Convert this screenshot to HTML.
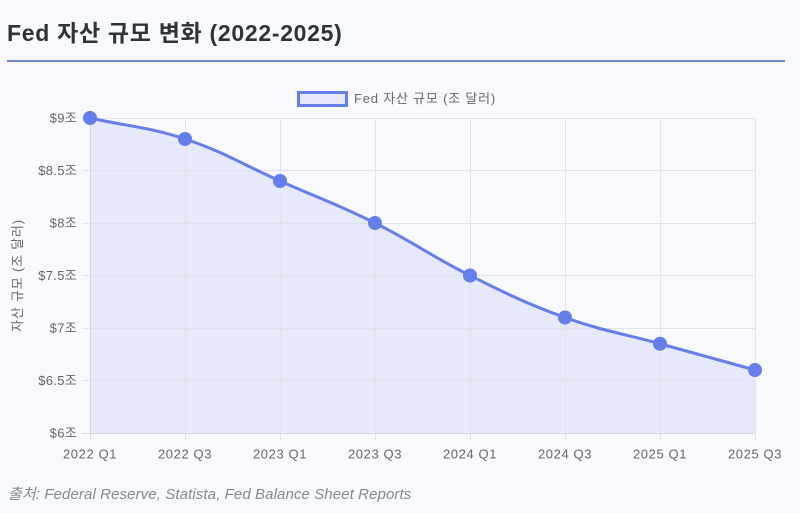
<!DOCTYPE html>
<html>
<head>
<meta charset="utf-8">
<style>
  html,body{margin:0;padding:0;}
  body{width:800px;height:513px;background:#f8f9fc;overflow:hidden;position:relative;
       font-family:"Liberation Sans","Noto Sans CJK KR",sans-serif;}
  .title{position:absolute;left:7px;top:18px;font-size:23px;font-weight:bold;color:#2d3436;white-space:nowrap;line-height:30px;letter-spacing:0.7px;}
  .rule{position:absolute;left:7px;top:60px;width:778px;height:2px;background:#7486cc;}
  .src{position:absolute;left:8px;top:486px;font-size:15px;font-style:italic;color:#7f8c8d;white-space:nowrap;line-height:18px;letter-spacing:0.1px;}
  svg{position:absolute;left:0;top:0;}
</style>
</head>
<body>
<div class="title">Fed 자산 규모 변화 (2022-2025)</div>
<div class="rule"></div>

<svg width="800" height="513" viewBox="0 0 800 513" font-family="'Liberation Sans','Noto Sans CJK KR',sans-serif">
  <!-- legend -->
  <rect x="298.5" y="92.5" width="48" height="13" fill="#e6e9fb" stroke="#667eea" stroke-width="3"/>
  <text x="354" y="103" font-size="13" letter-spacing="0.8" fill="#666">Fed 자산 규모 (조 달러)</text>

  <!-- fill -->
  <path d="M90,118 C128,126.4 148.24,126.81 185,139 C224.24,152.01 242,164.2 280,181 C318,197.8 337.84,204.52 375,223 C413.84,242.32 431.16,256.18 470,275.5 C507.16,293.98 526.01,303.49 565,317.5 C602.01,330.79 622,333.25 660,343.75 C698,354.25 717,359.5 755,370 L755,433 L90,433 Z" fill="rgba(102,126,234,0.12)"/>

  <!-- grid -->
  <g stroke="#e1e2ea" stroke-width="1">
    <line x1="82" y1="118.5" x2="755" y2="118.5"/>
    <line x1="82" y1="170.5" x2="755" y2="170.5"/>
    <line x1="82" y1="223.5" x2="755" y2="223.5"/>
    <line x1="82" y1="275.5" x2="755" y2="275.5"/>
    <line x1="82" y1="328.5" x2="755" y2="328.5"/>
    <line x1="82" y1="380.5" x2="755" y2="380.5"/>
    <line x1="185.5" y1="118" x2="185.5" y2="441"/>
    <line x1="280.5" y1="118" x2="280.5" y2="441"/>
    <line x1="375.5" y1="118" x2="375.5" y2="441"/>
    <line x1="470.5" y1="118" x2="470.5" y2="441"/>
    <line x1="565.5" y1="118" x2="565.5" y2="441"/>
    <line x1="660.5" y1="118" x2="660.5" y2="441"/>
    <line x1="755.5" y1="118" x2="755.5" y2="441"/>
  </g>
  <g stroke="#d6d7e0" stroke-width="1">
    <line x1="82" y1="433.5" x2="755" y2="433.5"/>
    <line x1="90.5" y1="118" x2="90.5" y2="441"/>
  </g>

  <!-- line -->
  <path d="M90,118 C128,126.4 148.24,126.81 185,139 C224.24,152.01 242,164.2 280,181 C318,197.8 337.84,204.52 375,223 C413.84,242.32 431.16,256.18 470,275.5 C507.16,293.98 526.01,303.49 565,317.5 C602.01,330.79 622,333.25 660,343.75 C698,354.25 717,359.5 755,370" fill="none" stroke="#667eea" stroke-width="3"/>

  <!-- points -->
  <g fill="#667eea">
    <circle cx="90" cy="118" r="7"/>
    <circle cx="185" cy="139" r="7"/>
    <circle cx="280" cy="181" r="7"/>
    <circle cx="375" cy="223" r="7"/>
    <circle cx="470" cy="275.5" r="7"/>
    <circle cx="565" cy="317.5" r="7"/>
    <circle cx="660" cy="343.75" r="7"/>
    <circle cx="755" cy="370" r="7"/>
  </g>

  <!-- y tick labels -->
  <g font-size="13" fill="#666" text-anchor="end" letter-spacing="0.3">
    <text x="77" y="122.5">$9조</text>
    <text x="77" y="175">$8.5조</text>
    <text x="77" y="227.5">$8조</text>
    <text x="77" y="280">$7.5조</text>
    <text x="77" y="332.5">$7조</text>
    <text x="77" y="385">$6.5조</text>
    <text x="77" y="437.5">$6조</text>
  </g>

  <!-- x tick labels -->
  <g font-size="13" fill="#666" text-anchor="middle" letter-spacing="0.6">
    <text x="90" y="458.5">2022 Q1</text>
    <text x="185" y="458.5">2022 Q3</text>
    <text x="280" y="458.5">2023 Q1</text>
    <text x="375" y="458.5">2023 Q3</text>
    <text x="470" y="458.5">2024 Q1</text>
    <text x="565" y="458.5">2024 Q3</text>
    <text x="660" y="458.5">2025 Q1</text>
    <text x="755" y="458.5">2025 Q3</text>
  </g>

  <!-- y axis title -->
  <text transform="translate(22,275.5) rotate(-90)" font-size="13" letter-spacing="0.8" fill="#666" text-anchor="middle">자산 규모 (조 달러)</text>
</svg>

<div class="src">출처: Federal Reserve, Statista, Fed Balance Sheet Reports</div>
</body>
</html>
